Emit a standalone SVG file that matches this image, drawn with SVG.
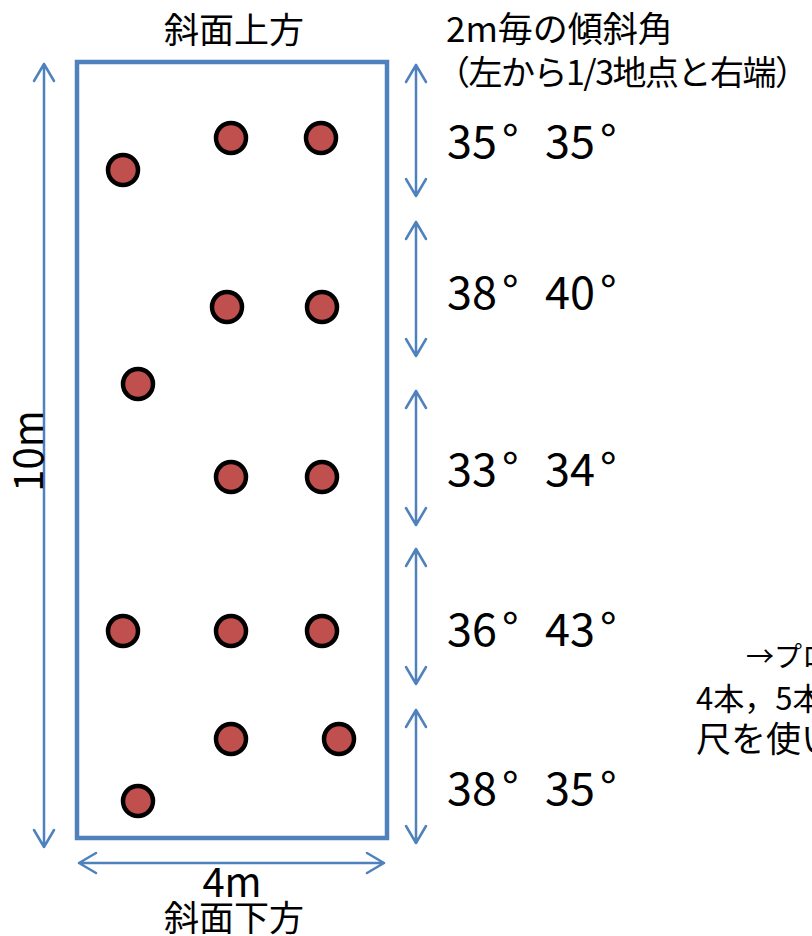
<svg xmlns="http://www.w3.org/2000/svg" width="812" height="936" viewBox="0 0 812 936">
<style>
text{font-family:"Noto Sans CJK JP","Noto Sans",sans-serif;fill:#000}
.lbl{font-size:35px}
.hd{font-size:35px}
.hd2{font-size:34px;letter-spacing:-1.5px}
.dim{font-size:40px}
.ang{font-size:45px}
.note{font-size:31px}
.note1{font-size:28px}
.pt{fill:#c0504d;stroke:#000;stroke-width:4.5}
.ar{fill:none;stroke:#4f81bd;stroke-width:2.5;stroke-linecap:round;stroke-linejoin:round}
</style>
<rect width="812" height="936" fill="#fff"/>
<g id="plot">
<rect x="77" y="62" width="310" height="776" fill="none" stroke="#4f81bd" stroke-width="4.5"/>
</g>
<g id="points">
<circle class="pt" cx="123" cy="170" r="15"/>
<circle class="pt" cx="231" cy="138" r="15"/>
<circle class="pt" cx="321" cy="138" r="15"/>
<circle class="pt" cx="227" cy="307" r="15"/>
<circle class="pt" cx="322" cy="307" r="15"/>
<circle class="pt" cx="138" cy="384" r="15"/>
<circle class="pt" cx="231" cy="477" r="15"/>
<circle class="pt" cx="322" cy="477" r="15"/>
<circle class="pt" cx="123" cy="631" r="15"/>
<circle class="pt" cx="231" cy="631" r="15"/>
<circle class="pt" cx="322" cy="631" r="15"/>
<circle class="pt" cx="231" cy="739" r="15"/>
<circle class="pt" cx="339" cy="739" r="15"/>
<circle class="pt" cx="138" cy="801" r="15"/>
</g>
<g id="connectors">
<path class="ar" d="M44 64V847M34 81L44 64L54 81M34 830L44 847L54 830"/>
<path class="ar" d="M79 863H384M96 853L79 863L96 873M367 853L384 863L367 873"/>
<path class="ar" d="M416 65V196M406 82L416 65L426 82M406 179L416 196L426 179"/>
<path class="ar" d="M416 222V356M406 239L416 222L426 239M406 339L416 356L426 339"/>
<path class="ar" d="M416 391V525M406 408L416 391L426 408M406 508L416 525L426 508"/>
<path class="ar" d="M416 549V684M406 566L416 549L426 566M406 667L416 684L426 667"/>
<path class="ar" d="M416 710V843M406 727L416 710L426 727M406 826L416 843L426 826"/>
</g>
<g id="labels">
<text class="lbl" x="234" y="43" text-anchor="middle">斜面上方</text>
<text class="lbl" x="234" y="931" text-anchor="middle">斜面下方</text>
<text class="dim" x="232" y="897" text-anchor="middle">4m</text>
<text class="dim" transform="translate(43 451) rotate(-90)" text-anchor="middle">10m</text>
<text class="hd" x="446" y="42">2m毎の傾斜角</text>
<text class="hd2" x="436" y="85">（左から1/3地点と右端）</text>
</g>
<g id="angles">
<text class="ang" x="447" y="158">35<tspan dx="5">°</tspan></text><text class="ang" x="545" y="158">35<tspan dx="5">°</tspan></text>
<text class="ang" x="447" y="309">38<tspan dx="5">°</tspan></text><text class="ang" x="545" y="309">40<tspan dx="5">°</tspan></text>
<text class="ang" x="447" y="486">33<tspan dx="5">°</tspan></text><text class="ang" x="545" y="486">34<tspan dx="5">°</tspan></text>
<text class="ang" x="447" y="646">36<tspan dx="5">°</tspan></text><text class="ang" x="545" y="646">43<tspan dx="5">°</tspan></text>
<text class="ang" x="447" y="805">38<tspan dx="5">°</tspan></text><text class="ang" x="545" y="805">35<tspan dx="5">°</tspan></text>
</g>
<g id="note">
<text class="note1" x="746" y="667">→プロ</text>
<text class="note" x="696" y="710">4本，5本</text>
<text class="lbl" x="696" y="752">尺を使い</text>
</g>
</svg>
